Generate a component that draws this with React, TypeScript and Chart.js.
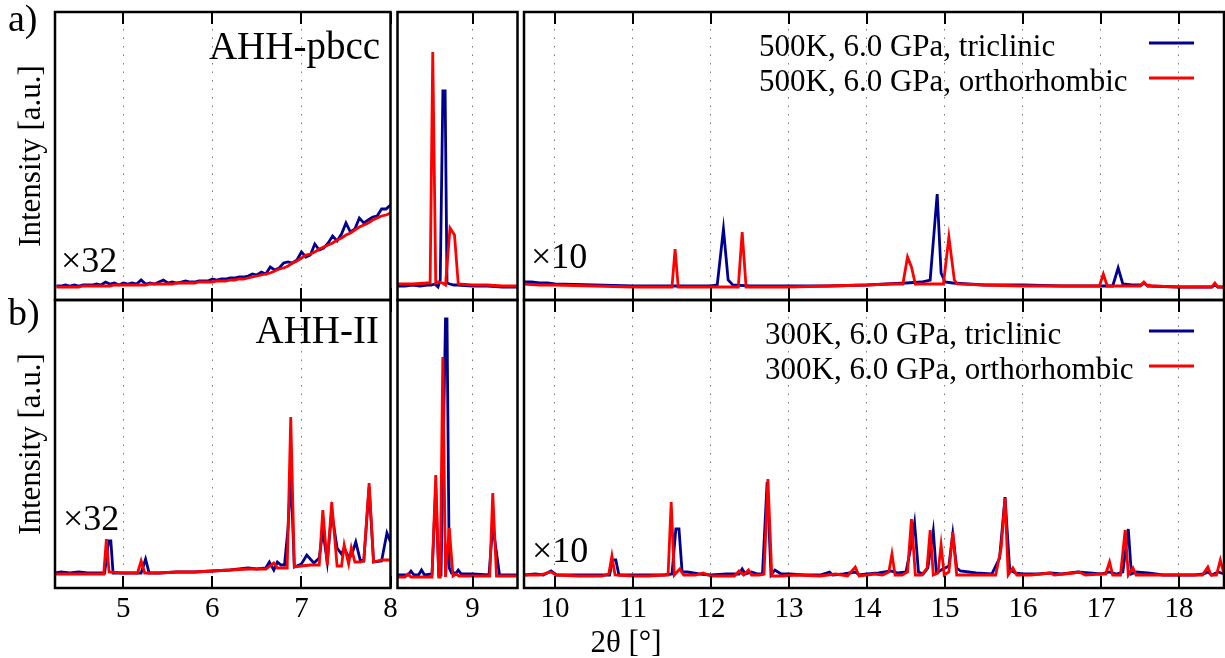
import React, { useEffect, useRef } from "react";
import { Chart, registerables } from "chart.js";
Chart.register(...registerables);

// ---------- data (intensity in arbitrary units, per panel) ----------
// a) 500K, 6.0 GPa
const topLeftX = [4.25,4.3,4.35,4.4,4.45,4.5,4.55,4.6,4.65,4.7,4.75,4.8,4.85,4.9,4.95,5,5.05,5.1,5.15,5.2,5.25,5.3,5.35,5.4,5.45,5.5,5.55,5.6,5.65,5.7,5.75,5.8,5.85,5.9,5.95,6,6.05,6.1,6.15,6.2,6.25,6.3,6.35,6.4,6.45,6.5,6.55,6.6,6.65,6.7,6.75,6.8,6.85,6.9,6.95,7,7.05,7.1,7.15,7.2,7.25,7.3,7.35,7.4,7.45,7.5,7.55,7.6,7.65,7.7,7.75,7.8,7.85,7.9,7.95,8];
const topLeftBlue = [14,14,15,14,15,14,15,15,15,16,15,18,16,17,15,17,16,17,16,20,16,17,16,18,20,17,18,17,18,19,18,18,19,19,19,21,20,21,21,22,22,23,23,24,26,25,28,26,33,30,32,37,38,37,40,48,43,45,56,50,52,57,64,59,66,77,68,71,82,77,80,83,84,91,91,95];
const topLeftRed = [13,13,13,13,13,13,14,14,14,14,14,14,14,15,15,15,15,15,15,15,15,16,16,16,16,16,16,17,17,17,17,17,18,18,18,18,19,19,19,20,20,21,21,22,23,24,25,26,27,29,31,32,34,37,39,42,45,46,48,51,53,55,57,60,62,65,67,70,73,75,77,80,82,84,85,87];

const topMidBlueX = [8.0,8.1,8.2,8.3,8.4,8.45,8.5,8.54,8.57,8.605,8.635,8.66,8.7,8.75,8.8,9.0,9.2,9.4,9.6];
const topMidBlueY = [14,14,15,14,15,15,16,13,20,209,209,17,16,15,15,14,14,13,13];
const topMidRedX = [8.0,8.2,8.4,8.435,8.47,8.51,8.54,8.6,8.64,8.7,8.76,8.81,9.0,9.2,9.4,9.6];
const topMidRedY = [16,16,17,17,248,17,18,17,15,72,65,16,15,15,14,14];

const topRightBlueX = [9.6,9.7,9.8,9.9,10,10.5,11,11.5,12,12.08,12.16,12.22,12.28,12.5,13,13.5,14,14.5,14.7,14.81,14.9,14.95,15,15.1,15.5,16,16.5,17,17.15,17.22,17.28,17.4,17.52,17.55,17.6,18,18.42,18.46,18.5,18.58];
const topRightBlueY = [18,18,17,17,16,15,14,14,14,15,71,20,15,14,14,14,15,17,18,20,106,27,18,17,15,15,14,14,14,32,16,15,15,17,14,13,13,15,13,13];
const topRightRedX = [9.6,9.8,10,10.5,11,11.5,11.54,11.58,12,12.35,12.4,12.45,13,13.5,14,14.3,14.46,14.52,14.57,14.62,14.8,14.98,15.05,15.12,15.16,15.5,16,16.5,16.98,17.03,17.08,17.5,17.55,17.6,17.62,17.65,18,18.42,18.46,18.5,18.58];
const topRightRedY = [16,15,15,14,13,13,51,13,13,13,68,13,13,14,15,16,16,43,33,16,16,16,63,20,16,15,14,14,14,26,14,14,18,14,15,14,13,13,17,13,13];

// b) 300K, 6.0 GPa
const bottomLeftBlueX = [4.23,4.3,4.4,4.5,4.6,4.7,4.79,4.835,4.86,4.885,5,5.1,5.2,5.25,5.29,5.4,5.6,5.8,6,6.2,6.4,6.5,6.6,6.64,6.69,6.73,6.77,6.81,6.85,6.88,6.92,7,7.06,7.14,7.2,7.24,7.29,7.34,7.4,7.45,7.48,7.53,7.56,7.61,7.66,7.7,7.76,7.81,7.9,7.96,8];
const bottomLeftBlueY = [15,16,15,16,15,15,15,47,47,15,15,15,15,29,15,15,16,16,17,18,20,19,20,26,18,26,23,23,60,116,21,24,33,25,30,58,26,76,40,34,40,31,32,46,28,27,101,26,27,55,46];
const bottomLeftRedX = [4.23,4.4,4.6,4.78,4.81,4.84,5,5.16,5.2,5.24,5.4,5.6,5.8,6,6.2,6.4,6.6,6.69,6.73,6.79,6.84,6.88,6.92,7,7.1,7.2,7.24,7.29,7.34,7.4,7.45,7.48,7.53,7.56,7.6,7.66,7.7,7.76,7.81,7.9,8];
const bottomLeftRedY = [14,14,14,14,49,16,15,15,27,15,15,16,16,17,18,19,19,25,20,20,20,171,21,22,23,23,78,23,86,22,22,43,24,40,26,26,27,105,26,28,28];

const bottomMidBlueX = [8,8.08,8.14,8.18,8.22,8.28,8.32,8.36,8.46,8.51,8.55,8.58,8.64,8.66,8.69,8.72,8.78,8.81,8.85,9,9.22,9.27,9.36,9.6];
const bottomMidBlueY = [13,13,13,17,13,13,18,13,14,100,13,13,269,269,20,15,15,18,14,14,13,63,13,13];
const bottomMidRedX = [8,8.1,8.14,8.18,8.3,8.46,8.51,8.55,8.57,8.604,8.64,8.69,8.74,8.78,8.82,9,9.23,9.27,9.32,9.6];
const bottomMidRedY = [11,11,14,11,11,11,113,11,11,231,11,60,12,14,12,12,12,95,12,12];

const bottomRightBlueX = [9.6,9.75,9.85,9.95,10.02,10.2,10.4,10.6,10.7,10.74,10.78,10.82,11,11.2,11.4,11.5,11.55,11.59,11.63,11.7,11.85,12,12.2,12.36,12.4,12.44,12.52,12.6,12.66,12.72,12.77,12.82,12.9,13,13.2,13.4,13.52,13.56,13.7,13.85,13.9,14,14.15,14.3,14.4,14.5,14.56,14.61,14.66,14.72,14.78,14.85,14.89,14.95,15.05,15.1,15.15,15.2,15.4,15.6,15.7,15.77,15.83,15.9,16,16.2,16.35,16.5,16.7,16.85,17,17.1,17.2,17.28,17.35,17.39,17.45,17.6,17.8,18,18.2,18.32,18.37,18.42,18.5,18.58];
const bottomRightBlueY = [13,14,13,17,13,13,13,13,13,28,28,13,13,13,13,14,59,59,16,16,14,13,14,14,19,14,16,14,14,106,13,18,14,14,13,13,16,13,14,16,13,14,15,17,15,16,40,65,16,14,20,57,15,18,22,54,20,17,15,14,30,91,18,15,14,14,15,14,16,15,14,16,14,16,59,14,16,15,13,13,13,14,16,13,16,14];
const bottomRightRedX = [9.6,9.8,9.95,10.02,10.3,10.6,10.69,10.73,10.77,11,11.2,11.4,11.45,11.49,11.53,11.6,11.65,11.8,11.9,12,12.3,12.36,12.42,12.48,12.52,12.62,12.68,12.73,12.78,12.9,13.1,13.4,13.6,13.75,13.85,13.9,14,14.1,14.2,14.28,14.32,14.36,14.45,14.52,14.57,14.62,14.7,14.77,14.81,14.85,14.91,14.95,14.99,15.05,15.1,15.15,15.3,15.5,15.65,15.72,15.77,15.81,15.87,15.92,16.1,16.35,16.4,16.65,16.72,16.8,17,17.06,17.11,17.15,17.25,17.31,17.35,17.41,17.45,17.7,17.9,18.1,18.3,18.37,18.41,18.48,18.53,18.58];
const bottomRightRedY = [13,13,16,13,12,12,14,32,13,12,12,13,13,86,13,19,13,13,15,12,12,17,13,18,13,13,14,109,12,12,13,12,14,12,21,12,13,14,13,16,34,13,13,16,69,13,13,20,58,13,15,43,13,16,56,13,13,13,13,40,90,13,20,13,13,15,13,15,16,13,14,14,26,13,13,58,13,20,13,13,13,13,13,21,13,13,28,13];

// ticks and ranges
const leftTicks = [5, 6, 7, 8];
const midTicks = [9];
const rightTicks = [10, 11, 12, 13, 14, 15, 16, 17, 18];
const leftRange = [4.233, 8.0];
const midRange = [8.0, 9.6];
const rightRange = [9.603, 18.577];

const labelsTop = ["500K, 6.0 GPa, triclinic", "500K, 6.0 GPa, orthorhombic"];
const labelsBottom = ["300K, 6.0 GPa, triclinic", "300K, 6.0 GPa, orthorhombic"];

// ---------- styling ----------
const W = 1225;
const H = 658;
const AXIS_H = 50;
const FONT = '"Liberation Serif", "Times New Roman", serif';
const BLUE = "#000090";
const RED = "#ff0000";

const pts = (xs: number[], ys: number[]) => xs.map((x, i) => ({ x, y: ys[i] }));

const decorPlugin = {
  id: "decor",
  afterDraw(chart: any, _args: any, opts: any) {
    const { ctx, chartArea: a } = chart;
    const xs = chart.scales.x;
    ctx.save();
    // inward tick marks
    ctx.strokeStyle = "#000";
    ctx.lineWidth = 2;
    ctx.beginPath();
    for (const t of xs.ticks) {
      const px = Math.round(xs.getPixelForValue(t.value));
      ctx.moveTo(px, a.top);
      ctx.lineTo(px, a.top + 12);
      ctx.moveTo(px, a.bottom);
      ctx.lineTo(px, a.bottom - 12);
    }
    ctx.stroke();
    // frame
    ctx.lineWidth = 2.5;
    ctx.strokeRect(a.left, a.top, a.right - a.left, a.bottom - a.top);
    // texts
    ctx.fillStyle = "#000";
    for (const t of opts.texts || []) {
      ctx.font = `${t.size}px ${FONT}`;
      ctx.textBaseline = "alphabetic";
      if (t.rot) {
        ctx.save();
        ctx.translate(t.x, t.y);
        ctx.rotate(-Math.PI / 2);
        ctx.textAlign = "center";
        ctx.fillText(t.text, 0, 0);
        ctx.restore();
      } else {
        ctx.textAlign = t.align || "left";
        ctx.fillText(t.text, t.x, t.y);
      }
    }
    // legend
    for (const l of opts.legend || []) {
      ctx.font = `31px ${FONT}`;
      ctx.textAlign = "left";
      ctx.textBaseline = "alphabetic";
      ctx.fillStyle = "#000";
      ctx.fillText(l.text, l.x, l.y);
      ctx.strokeStyle = l.color;
      ctx.lineWidth = 3;
      ctx.beginPath();
      ctx.moveTo(1149, l.lineY);
      ctx.lineTo(1194, l.lineY);
      ctx.stroke();
    }
    ctx.restore();
  },
};

type Panel = {
  l: number; t: number; r: number; b: number;
  range: number[]; ticks: number[]; showLabels: boolean;
  blue: { x: number; y: number }[]; red: { x: number; y: number }[];
  blueLabel: string; redLabel: string;
  texts: any[]; legend: any[];
};

function makeConfig(p: Panel): any {
  return {
    type: "line",
    data: {
      datasets: [
        { label: p.redLabel, data: p.red, borderColor: RED, borderWidth: 2.8, pointRadius: 0, tension: 0, order: 1 },
        { label: p.blueLabel, data: p.blue, borderColor: BLUE, borderWidth: 2.8, pointRadius: 0, tension: 0, order: 2 },
      ],
    },
    options: {
      animation: false,
      responsive: false,
      events: [],
      layout: { padding: { left: p.l, top: p.t, right: W - p.r, bottom: H - p.b - AXIS_H } },
      plugins: {
        legend: { display: false },
        tooltip: { enabled: false },
        decor: { texts: p.texts, legend: p.legend },
      },
      scales: {
        x: {
          type: "linear",
          position: "bottom",
          min: p.range[0],
          max: p.range[1],
          afterFit: (s: any) => { s.height = AXIS_H; },
          afterBuildTicks: (s: any) => { s.ticks = p.ticks.map((v) => ({ value: v })); },
          grid: { display: true, drawTicks: false, color: "#777", lineWidth: 1 },
          border: { display: false, dash: [1.5, 7] },
          ticks: {
            display: p.showLabels,
            autoSkip: false,
            maxRotation: 0,
            padding: 4,
            color: "#000",
            font: { family: FONT, size: 29 },
          },
        },
        y: { display: false, min: 0, max: 288 },
      },
    },
    plugins: [decorPlugin],
  };
}

const TOP = { t: 12, b: 300 };
const BOT = { t: 300, b: 588 };
const COLS = [
  { l: 55, r: 390.5 },
  { l: 397.5, r: 517.5 },
  { l: 524, r: 1224 },
];

const panels: Panel[] = [
  {
    ...COLS[0], ...TOP, range: leftRange, ticks: leftTicks, showLabels: false,
    blue: pts(topLeftX, topLeftBlue), red: pts(topLeftX, topLeftRed),
    blueLabel: labelsTop[0], redLabel: labelsTop[1],
    texts: [
      { text: "a)", x: 8, y: 31, size: 38 },
      { text: "Intensity [a.u.]", x: 40, y: 156, size: 31, rot: true },
      { text: "AHH-pbcc", x: 380, y: 59, size: 39, align: "right" },
      { text: "×32", x: 61, y: 272, size: 36 },
    ],
    legend: [],
  },
  {
    ...COLS[1], ...TOP, range: midRange, ticks: midTicks, showLabels: false,
    blue: pts(topMidBlueX, topMidBlueY), red: pts(topMidRedX, topMidRedY),
    blueLabel: labelsTop[0], redLabel: labelsTop[1],
    texts: [], legend: [],
  },
  {
    ...COLS[2], ...TOP, range: rightRange, ticks: rightTicks, showLabels: false,
    blue: pts(topRightBlueX, topRightBlueY), red: pts(topRightRedX, topRightRedY),
    blueLabel: labelsTop[0], redLabel: labelsTop[1],
    texts: [{ text: "×10", x: 531, y: 268, size: 36 }],
    legend: [
      { text: labelsTop[0], x: 759, y: 56, lineY: 43, color: BLUE },
      { text: labelsTop[1], x: 759, y: 91, lineY: 78, color: RED },
    ],
  },
  {
    ...COLS[0], ...BOT, range: leftRange, ticks: leftTicks, showLabels: true,
    blue: pts(bottomLeftBlueX, bottomLeftBlueY), red: pts(bottomLeftRedX, bottomLeftRedY),
    blueLabel: labelsBottom[0], redLabel: labelsBottom[1],
    texts: [
      { text: "b)", x: 8, y: 325, size: 38 },
      { text: "Intensity [a.u.]", x: 40, y: 444, size: 31, rot: true },
      { text: "AHH-II", x: 379, y: 343, size: 39, align: "right" },
      { text: "×32", x: 63, y: 530, size: 36 },
    ],
    legend: [],
  },
  {
    ...COLS[1], ...BOT, range: midRange, ticks: midTicks, showLabels: true,
    blue: pts(bottomMidBlueX, bottomMidBlueY), red: pts(bottomMidRedX, bottomMidRedY),
    blueLabel: labelsBottom[0], redLabel: labelsBottom[1],
    texts: [], legend: [],
  },
  {
    ...COLS[2], ...BOT, range: rightRange, ticks: rightTicks, showLabels: true,
    blue: pts(bottomRightBlueX, bottomRightBlueY), red: pts(bottomRightRedX, bottomRightRedY),
    blueLabel: labelsBottom[0], redLabel: labelsBottom[1],
    texts: [
      { text: "×10", x: 532, y: 562, size: 36 },
      { text: "2θ [°]", x: 626, y: 652, size: 31, align: "center" },
    ],
    legend: [
      { text: labelsBottom[0], x: 765, y: 344, lineY: 331, color: BLUE },
      { text: labelsBottom[1], x: 765, y: 379, lineY: 366, color: RED },
    ],
  },
];

export default function App() {
  const refs = useRef<(HTMLCanvasElement | null)[]>([]);
  useEffect(() => {
    const charts = panels.map((p, i) => new Chart(refs.current[i] as HTMLCanvasElement, makeConfig(p)));
    return () => charts.forEach((c) => c.destroy());
  }, []);
  return (
    <div style={{ position: "absolute", left: 0, top: 0, width: W, height: H, background: "#fff", overflow: "hidden" }}>
      {panels.map((_, i) => (
        <canvas
          key={i}
          ref={(el) => { refs.current[i] = el; }}
          width={W}
          height={H}
          style={{ position: "absolute", left: 0, top: 0, width: W, height: H }}
        />
      ))}
    </div>
  );
}
